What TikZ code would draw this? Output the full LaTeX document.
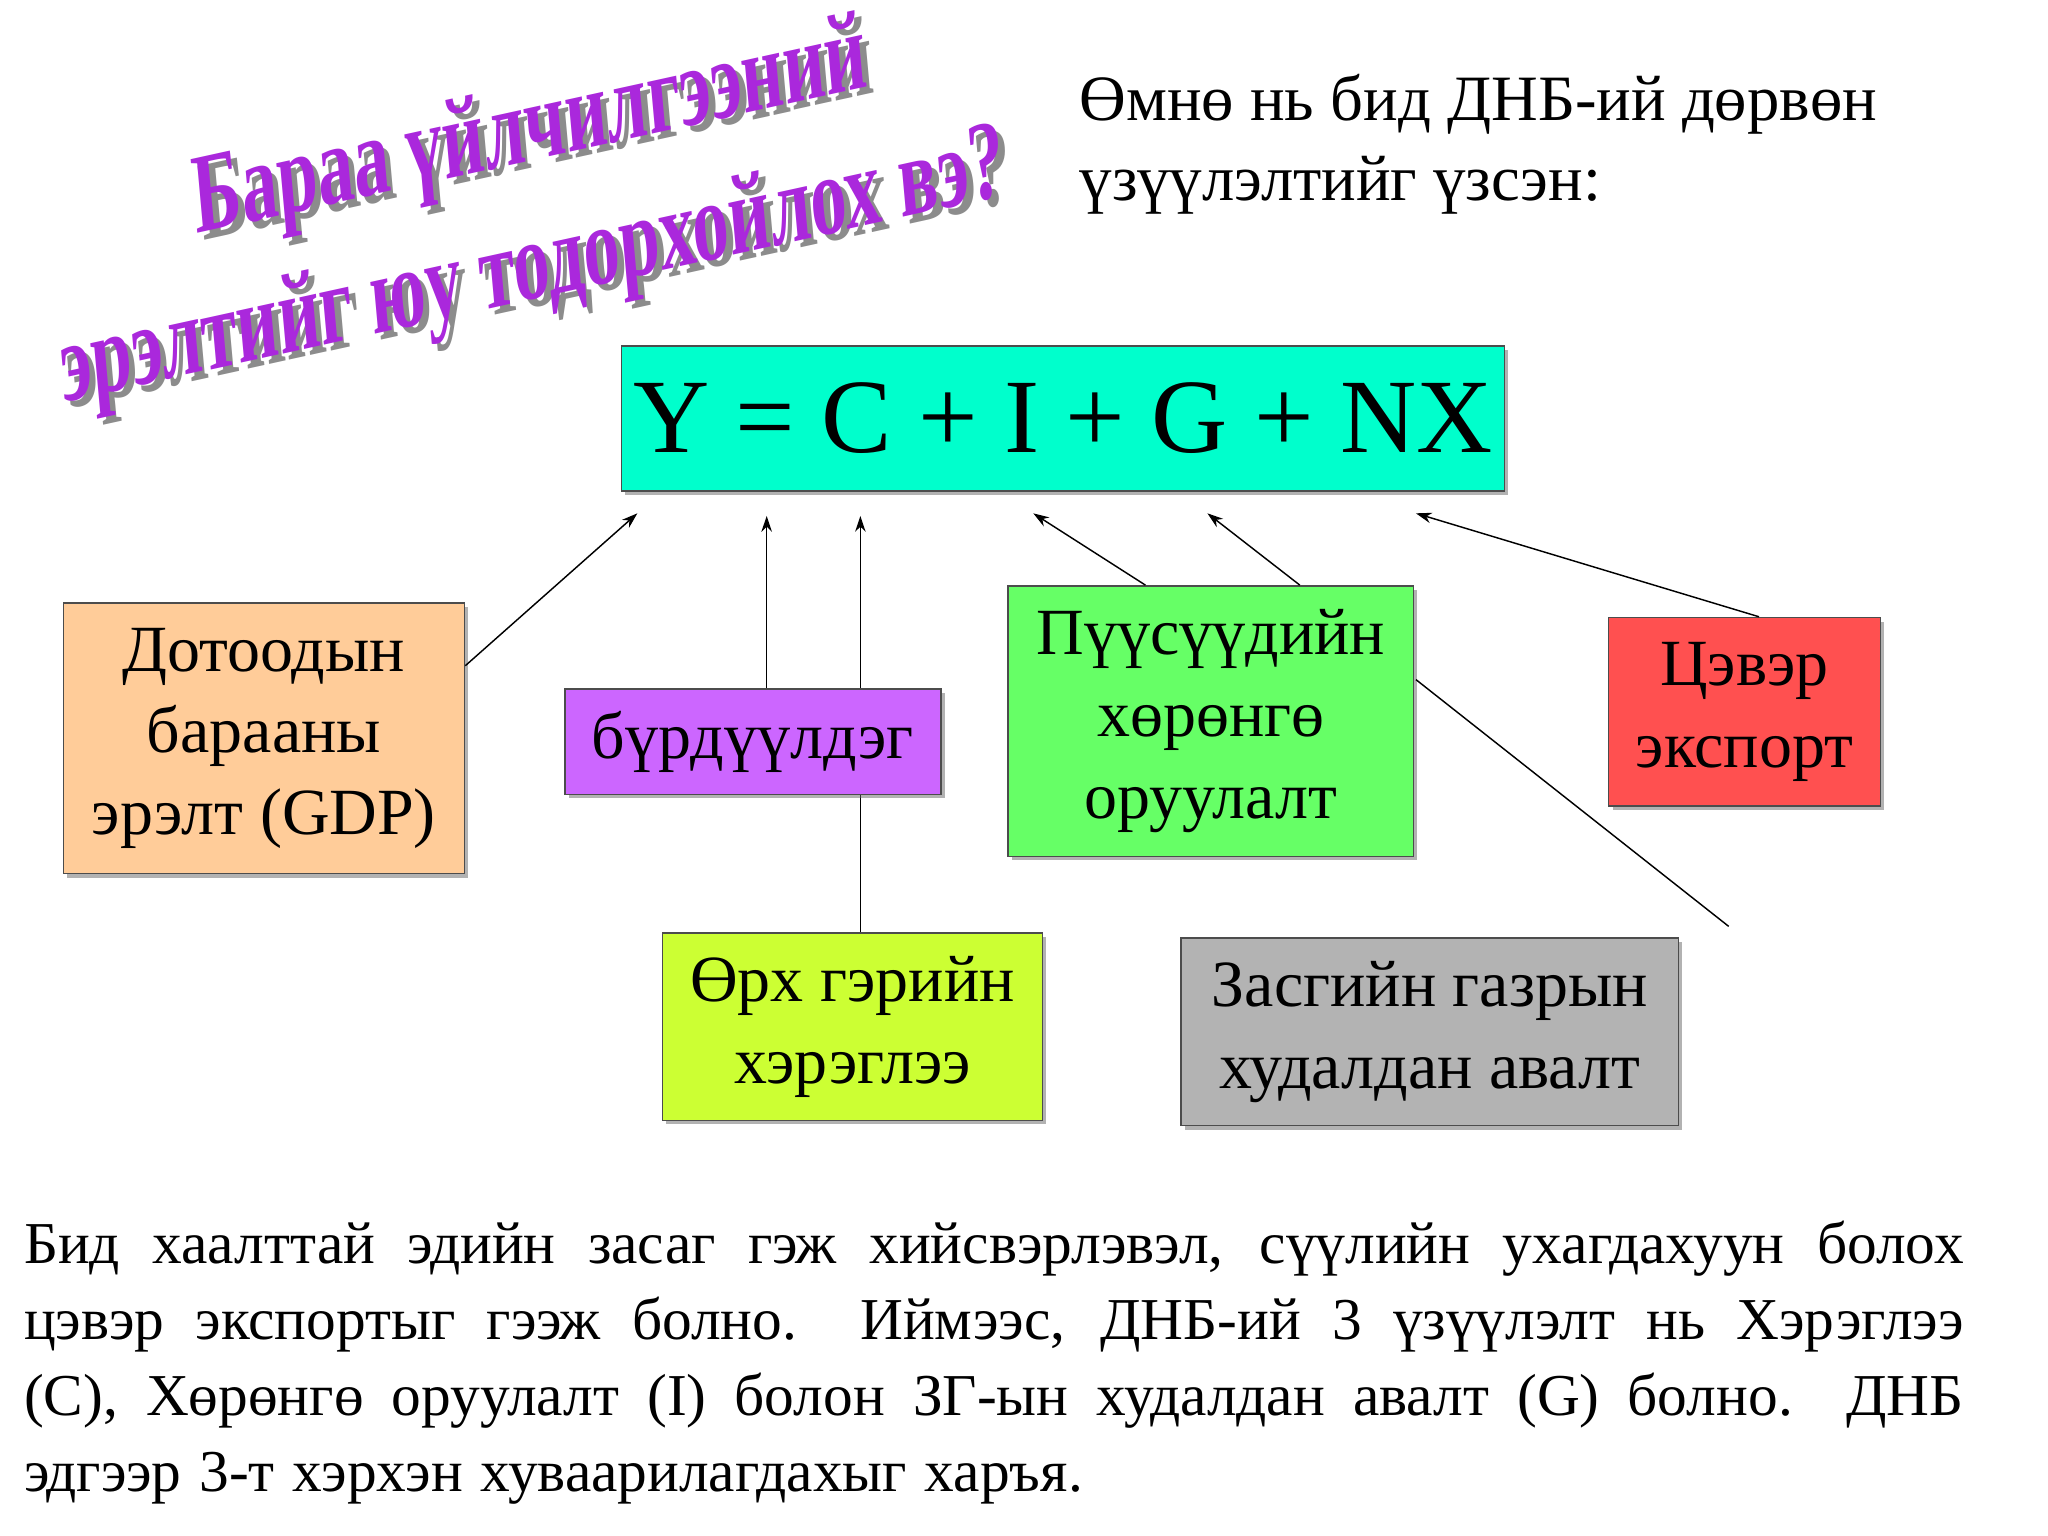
\documentclass[tikz,border=0pt]{standalone}
\usepackage{fontspec}
\setmainfont{Liberation Serif}
\usetikzlibrary{arrows.meta,shadows}
\definecolor{ceq}{RGB}{0,255,204}
\definecolor{cgdp}{RGB}{255,204,153}
\definecolor{cbur}{RGB}{204,102,255}
\definecolor{cinv}{RGB}{102,255,102}
\definecolor{cnx}{RGB}{255,80,80}
\definecolor{ccons}{RGB}{204,255,51}
\definecolor{cgov}{RGB}{179,179,179}
\definecolor{ctitle}{RGB}{170,40,220}
\begin{document}
\begin{tikzpicture}[x=1pt,y=-1pt,
 bx/.style={draw=black!70,line width=1.2pt,inner sep=0pt,align=center,drop shadow={shadow xshift=3pt,shadow yshift=-3pt,opacity=.5,fill=black!60}},
 bt/.style={font=\fontsize{50}{62}\selectfont},
 ar/.style={-{Stealth[length=12pt,width=8pt]},line width=1.1pt},
 tt/.style={font=\fontsize{86}{86}\bfseries\selectfont,text=ctitle,xscale=.64,rotate=8}]
\useasboundingbox (0,0) rectangle (1552,1164);
% title
\node[tt,text=black!45] at (407,106) {Бараа үйлчилгээний};
\node[tt] (t1) at (402,101) {Бараа үйлчилгээний};
\node[tt,text=black!45] at (409,211) {эрэлтийг юу тодорхойлох вэ?};
\node[tt] (t2) at (404,206) {эрэлтийг юу тодорхойлох вэ?};
\node[anchor=north west,align=left,font=\fontsize{49}{61}\selectfont,inner sep=0pt] (intro) at (818,56) {Өмнө нь бид ДНБ-ий дөрвөн\\үзүүлэлтийг үзсэн:};
% equation
\node[bx,fill=ceq,minimum width=669pt,minimum height=110pt,font=\fontsize{80}{80}\selectfont] (eq) at (805.5,317) {Y = C + I + G + NX};
% boxes
\node[bx,bt,fill=cgdp,minimum width=304pt,minimum height=205pt] (gdp) at (200,559.5) {Дотоодын\\барааны\\эрэлт (GDP)};
\coordinate (c1) at (652,707);
\draw[ar] (c1) -- (652,391) coordinate (e2);
\node[bx,bt,fill=cbur,minimum width=285pt,minimum height=80pt] (bur) at (570.5,562) {бүрдүүлдэг};
\node[bx,bt,fill=cinv,minimum width=307pt,minimum height=205pt] (inv) at (917.5,546.5) {Пүүсүүдийн\\хөрөнгө\\оруулалт};
\node[bx,bt,fill=cnx,minimum width=206pt,minimum height=143pt] (nx) at (1322,539.5) {Цэвэр\\экспорт};
\node[bx,bt,fill=ccons,minimum width=288pt,minimum height=142pt] (cons) at (646,778) {Өрх гэрийн\\хэрэглээ};
\node[bx,bt,fill=cgov,minimum width=377pt,minimum height=142pt] (gov) at (1083.5,782) {Засгийн газрын\\худалдан авалт};
% arrows
\draw[ar] (gdp.east) ++(0,-55) -- (483,389);
\draw[ar] (bur.north -| 581,0) -- (581,391);
\draw[ar] (inv.north -| 868,0) -- (783,389);
\draw[ar] (inv.north -| 985,0) -- (915,389);
\draw[ar] (nx.north -| 1333,0) -- (1073,389);
\coordinate (gend) at (1310,702);
\draw[line width=1.1pt] (1073,515) -- (gend);
% paragraph
\node[anchor=north west,font=\fontsize{45}{57.5}\selectfont,inner sep=0pt] (para) at (18,925) {\parbox{1470pt}{\spaceskip=0.3em plus 1em minus 0.15em Бид хаалттай эдийн засаг гэж хийсвэрлэвэл, сүүлийн ухагдахуун болох\linebreak цэвэр экспортыг гээж болно. Иймээс, ДНБ-ий 3 үзүүлэлт нь Хэрэглээ\linebreak (C), Хөрөнгө оруулалт (I) болон ЗГ-ын худалдан авалт (G) болно. ДНБ\linebreak эдгээр 3-т хэрхэн хуваарилагдахыг харъя.}};
\end{tikzpicture}
\end{document}
